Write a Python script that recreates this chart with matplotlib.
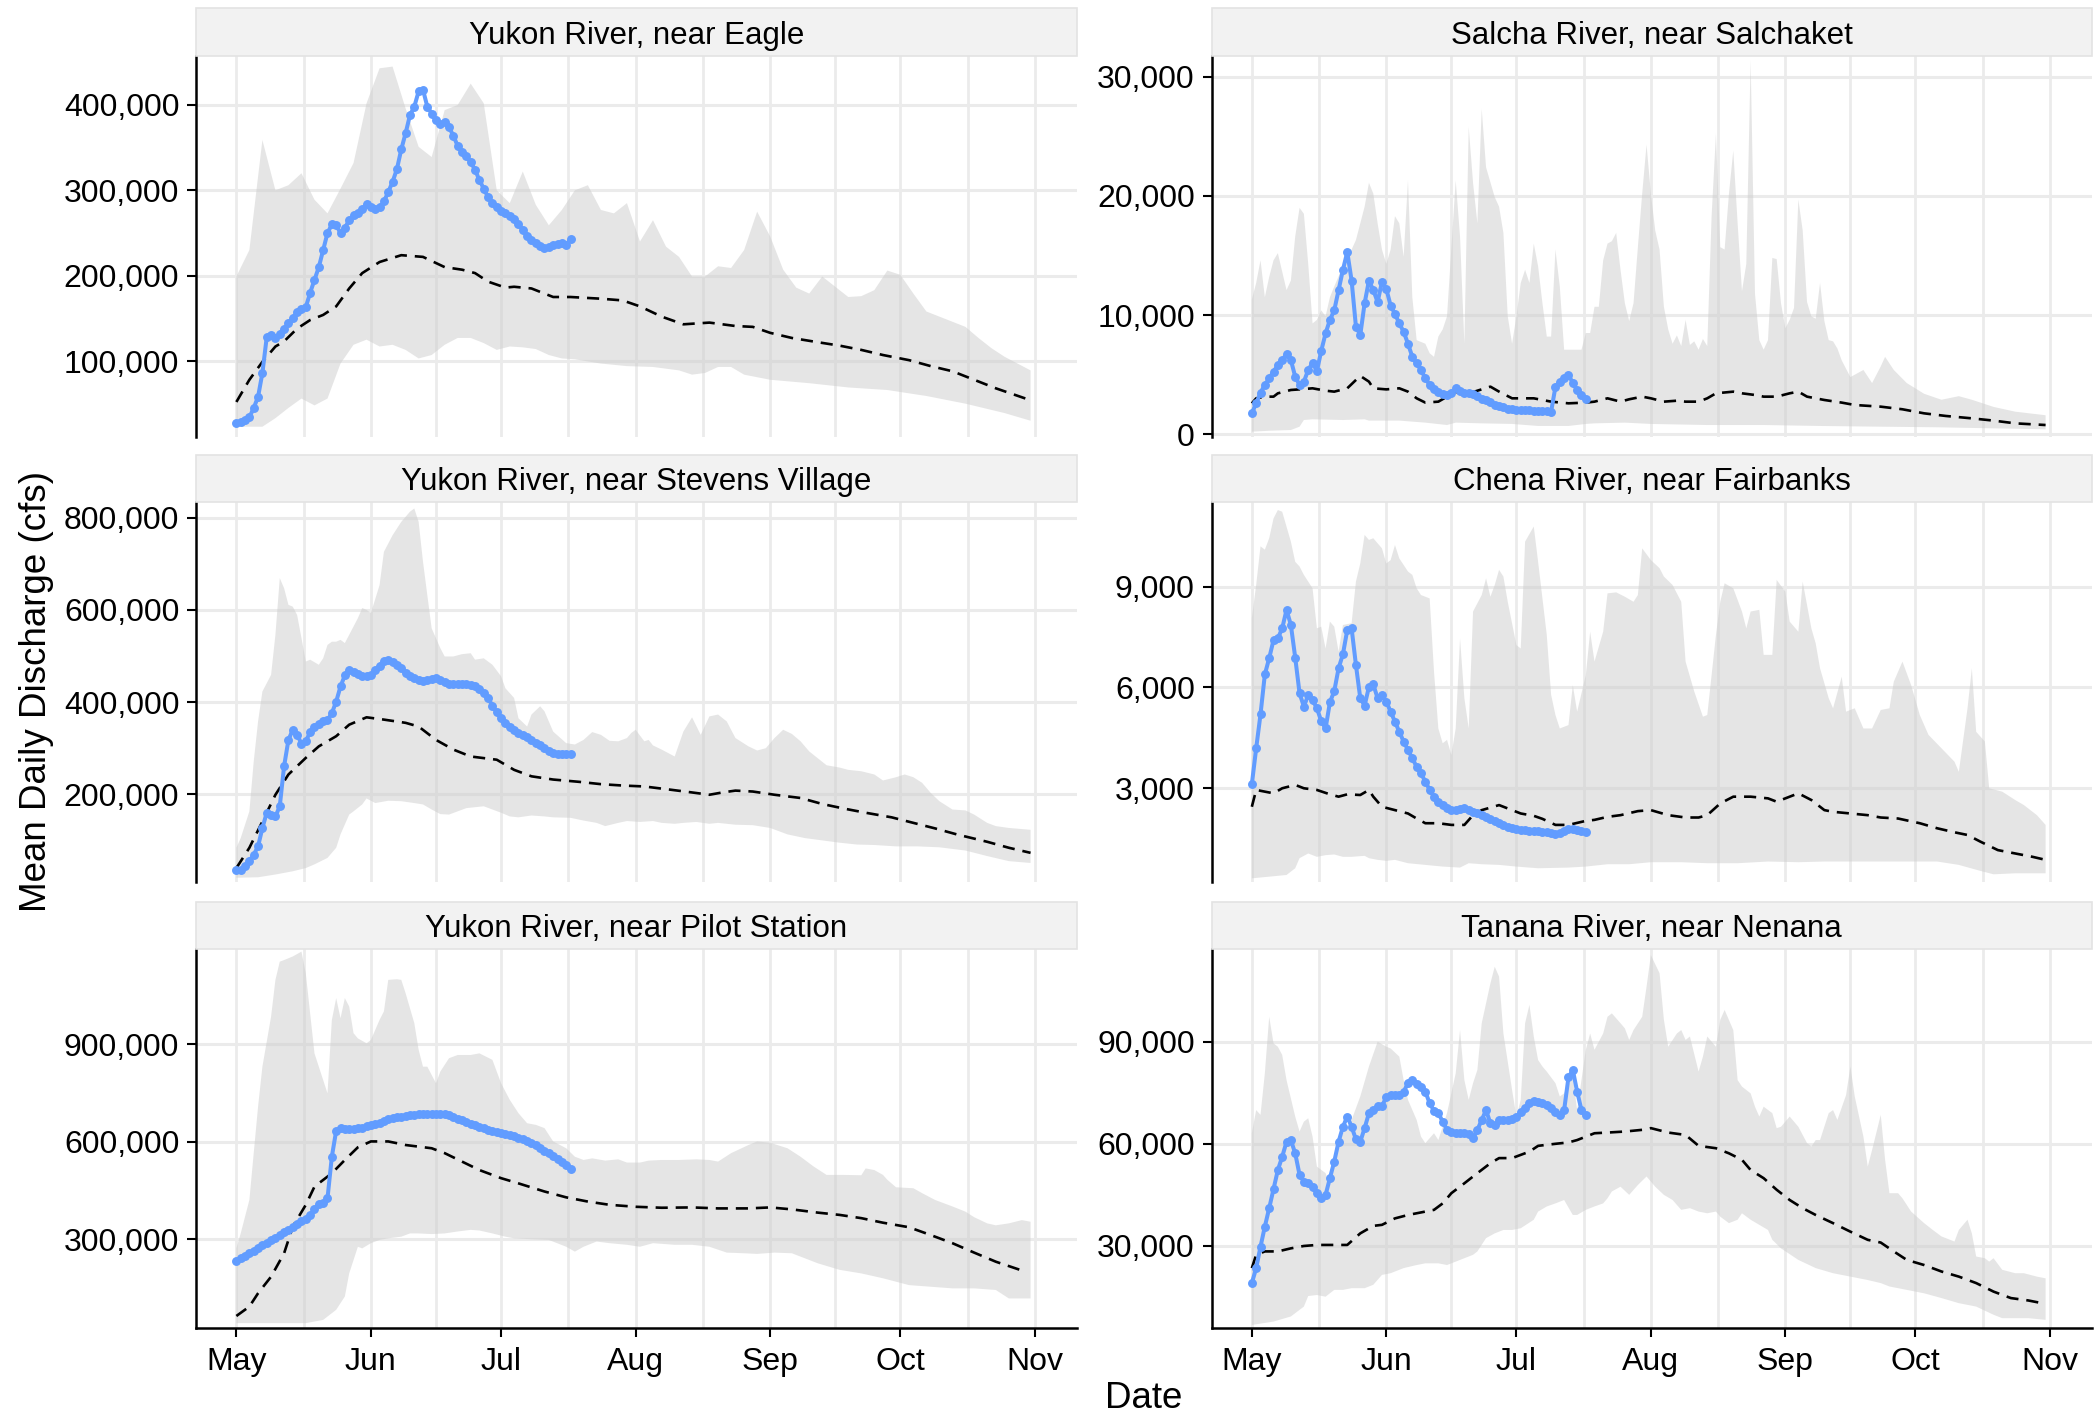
import numpy as np
import pandas as pd
import matplotlib
matplotlib.use("Agg")
import matplotlib.pyplot as plt
from matplotlib.patches import Rectangle
from matplotlib.ticker import FuncFormatter

plt.rcParams['font.family'] = ['Liberation Sans', 'DejaVu Sans']

# all discharge values in thousands of cfs, x = days since May 1

titles = ["Yukon River, near Eagle", "Salcha River, near Salchaket",
          "Yukon River, near Stevens Village", "Chena River, near Fairbanks",
          "Yukon River, near Pilot Station", "Tanana River, near Nenana"]

# ---- Yukon River, near Eagle
eagle_obs = [27, 28.5, 30.5, 34, 45, 58, 86, 128, 131, 127,
             132, 138, 144, 150, 158, 161, 163, 180, 195, 210,
             230, 250, 260, 259, 250, 256, 265, 271, 273, 278,
             284, 281, 278, 280, 287, 298, 310, 325, 348, 367,
             388, 398, 416, 418, 398, 390, 382, 378, 380, 374,
             364, 352, 345, 340, 333, 324, 312, 302, 292, 285,
             280, 276, 273, 270, 266, 260, 254, 247, 242, 238,
             235, 233, 234, 236, 237, 238, 236, 243]
eagle_med_d = [0, 3, 6, 9, 11, 14, 17, 20, 23, 26, 29, 33, 38, 43, 48, 52, 55, 58, 62, 64,
               68, 73, 77, 84, 89, 93, 98, 103, 109, 115, 119, 123, 128, 134, 139, 144, 149,
               155, 160, 165, 170, 175, 183]
eagle_med = [52, 78, 99, 117, 123, 138, 148, 154, 164, 185, 203, 216, 224, 222, 210, 207, 203,
             193, 186, 187, 185, 175, 175, 173, 171, 164, 152, 143, 145, 141, 140, 133, 127,
             122, 118, 113, 107, 101, 94, 88, 78, 68, 54]
eagle_hi_d = list(range(0, 184, 3))
eagle_hi = [199, 230, 359, 300, 306, 320, 289, 273, 302, 332,
            402, 443, 445, 396, 351, 339, 394, 400, 425, 402,
            300, 285, 322, 283, 259, 277, 300, 306, 277, 273,
            285, 240, 265, 234, 222, 199, 199, 211, 209, 230,
            275, 246, 207, 186, 179, 199, 187, 175, 176, 183,
            206, 201, 179, 158, 152, 146, 140, 127, 115, 105, 97, 89]
eagle_lo_d = [0, 6, 9, 12, 15, 18, 21, 24, 27, 30, 33, 36, 39, 42, 45, 48, 51, 54, 57, 60,
              63, 66, 69, 72, 75, 78, 84, 90, 96, 102, 105, 108, 111, 114, 117, 123, 132,
              141, 150, 159, 168, 177, 183]
eagle_lo = [23, 23, 33, 45, 56, 48, 56, 97, 119, 125, 117, 119, 113, 103, 107, 119, 127, 127,
            121, 113, 117, 116, 114, 107, 103, 102, 97, 94, 93, 89, 84, 86, 93, 93, 84, 78,
            74, 69, 66, 59, 50, 39, 30]

# ---- Salcha River, near Salchaket
salcha_obs = [1.76, 2.6, 3.5, 4.14, 4.7, 5.26, 5.8, 6.23, 6.74, 6.23,
              4.84, 4.14, 4.42, 5.4, 6.0, 5.3, 7.0, 8.47, 9.6, 10.4,
              12.1, 13.8, 15.3, 12.9, 9.03, 8.33, 11.0, 12.9, 12.1, 11.1,
              12.8, 12.2, 10.8, 10.1, 9.3, 8.6, 7.6, 6.5, 5.95, 5.4,
              4.7, 4.14, 3.77, 3.58, 3.38, 3.3, 3.44, 3.86, 3.66, 3.5,
              3.44, 3.38, 3.2, 3.0, 2.88, 2.68, 2.49, 2.38, 2.26, 2.15,
              2.1, 2.04, 2.04, 2.04, 2.04, 1.98, 1.98, 1.96, 1.96, 1.9,
              4.0, 4.4, 4.7, 5.0, 4.3, 3.7, 3.3, 3.0]
salcha_med_d = [0, 1, 3, 5, 6, 9, 11, 14, 17, 19, 22, 24, 25, 27, 28, 31, 34, 36, 38, 40,
                43, 45, 47, 49, 52, 55, 57, 60, 62, 65, 69, 73, 77, 79, 82, 85, 87, 90, 92, 95,
                98, 100, 103, 105, 107, 111, 113, 116, 118, 121, 124, 126, 128, 132, 136, 139,
                145, 150, 155, 160, 166, 171, 176, 183]
salcha_med = [2.6, 3.02, 3.16, 3.16, 3.44, 3.72, 3.77, 3.86, 3.66, 3.58,
              3.86, 4.56, 4.9, 4.42, 3.86, 3.77, 3.86, 3.58, 3.02, 2.66,
              2.74, 3.16, 3.58, 3.3, 3.66, 4.0, 3.58, 3.02, 3.02, 3.02,
              2.74, 2.6, 2.66, 2.74, 3.02, 2.74, 2.94, 3.16, 3.02, 2.74,
              2.82, 2.74, 2.74, 3.02, 3.44, 3.58, 3.44, 3.3, 3.16, 3.16,
              3.44, 3.58, 3.16, 2.88, 2.66, 2.46, 2.32, 2.1, 1.76, 1.54,
              1.34, 1.15, 0.92, 0.78]
salcha_hi_d = [0, 1, 2, 3, 4, 5, 6, 8, 9, 10, 11, 12, 13, 14, 15, 16, 17, 18, 19, 21,
               23, 24, 26, 27, 28, 29, 30, 31, 32, 33, 34, 35, 36, 37, 38, 40, 41, 42, 43, 44,
               45, 47, 48, 49, 50, 51, 52, 53, 54, 56, 57, 58, 59, 60, 61, 62, 63, 64, 65, 66,
               67, 68, 69, 70, 71, 72, 74, 76, 77, 78, 79, 80, 81, 82, 83, 84, 85, 86, 87, 88,
               89, 90, 91, 92, 93, 94, 95, 96, 97, 98, 99, 100, 101, 102, 103, 104, 105, 106,
               107, 108, 109, 110, 111, 112, 113, 114, 115, 116, 117, 118, 119, 120, 121, 122,
               123, 124, 125, 126, 127, 128, 129, 130, 131, 132, 133, 134, 135, 136, 138, 141,
               143, 145, 146, 148, 151, 155, 159, 163, 166, 171, 176, 183]
salcha_hi = [11.3, 12.7, 14.6, 11.5, 13.2, 14.6, 15.2, 12.1, 12.9, 16.6,
             19.0, 18.5, 14.3, 9.3, 9.6, 10.4, 9.9, 11.5, 12.4, 14.1,
             15.5, 16.3, 19.1, 21.1, 20.2, 17.7, 15.5, 14.3, 15.5, 18.3,
             17.7, 14.9, 21.3, 11.5, 7.9, 7.6, 6.8, 6.5, 8.2, 8.8,
             9.9, 21.3, 16.6, 7.6, 25.8, 21.1, 17.7, 27.3, 22.4, 19.9,
             19.1, 16.9, 9.9, 7.6, 9.9, 12.7, 13.8, 12.7, 16.0, 14.1,
             11.0, 8.2, 8.2, 15.5, 12.4, 7.1, 7.1, 7.1, 8.5, 8.5,
             10.7, 10.7, 14.6, 16.0, 16.2, 16.9, 13.8, 11.0, 9.5, 11.0,
             15.7, 20.2, 24.3, 20.2, 17.1, 15.5, 10.7, 8.8, 7.6, 8.3,
             7.4, 9.6, 7.5, 7.8, 7.1, 8.0, 7.4, 18.3, 25.2, 15.7,
             15.5, 20.2, 23.8, 17.7, 12.0, 14.3, 31.4, 11.8, 7.9, 7.1,
             7.9, 14.8, 14.7, 11.0, 8.9, 9.6, 10.6, 19.7, 17.1, 11.1,
             9.9, 9.7, 12.7, 9.5, 7.9, 7.8, 7.2, 6.2, 4.8, 5.4,
             4.3, 5.7, 6.5, 5.4, 4.3, 3.4, 2.9, 3.2, 2.9, 2.3, 1.9, 1.6]
salcha_lo_d = [0, 4, 9, 11, 12, 14, 21, 26, 27, 34, 40, 45, 47, 53, 60, 66, 73, 77, 79, 86,
               92, 105, 118, 131, 145, 158, 171, 183]
salcha_lo = [0.22, 0.3, 0.36, 0.64, 1.2, 1.26, 1.2, 1.26, 1.15, 1.15, 0.98, 0.78, 0.98, 0.92,
             0.87, 0.7, 0.7, 0.87, 0.92, 0.98, 0.87, 0.78, 0.78, 0.7, 0.64, 0.59, 0.5, 0.42]

# ---- Yukon River, near Stevens Village
stevens_obs = [34.7, 36, 44, 55, 69, 87, 127, 160, 156, 152,
               174, 261, 318, 340, 329, 310, 315, 335, 346, 353,
               358, 361, 376, 401, 434, 458, 469, 466, 461, 457,
               456, 459, 470, 479, 490, 491, 487, 481, 474, 464,
               457, 452, 448, 446, 448, 451, 452, 448, 443, 440,
               439, 439, 439, 439, 438, 434, 429, 419, 409, 392,
               378, 365, 355, 347, 340, 334, 329, 324, 318, 312,
               307, 301, 295, 290, 288, 287, 287, 287]
stevens_med_d = [0, 3, 6, 9, 12, 16, 19, 23, 26, 30, 34, 39, 42, 46, 50, 54, 60, 64, 68, 73,
                 79, 84, 89, 94, 100, 105, 109, 112, 115, 119, 124, 130, 135, 140, 145, 151,
                 156, 161, 166, 173, 178, 183]
stevens_med = [40, 84, 141, 199, 243, 279, 304, 326, 351, 367, 362, 355, 347, 318, 297, 282,
               275, 253, 239, 232, 227, 222, 219, 217, 210, 204, 199, 204, 208, 206, 199, 192,
               179, 169, 160, 150, 138, 126, 113, 97, 84, 73]
stevens_hi_d = [0, 1, 3, 4, 5, 6, 8, 9, 10, 11, 12, 13, 14, 15, 16, 17, 19, 20, 21, 22,
                23, 24, 25, 26, 28, 29, 30, 31, 33, 34, 36, 38, 40, 41, 42, 43, 44, 45, 47, 48,
                50, 52, 54, 55, 57, 59, 61, 62, 64, 65, 67, 68, 70, 71, 73, 76, 78, 80, 82, 84,
                86, 88, 90, 91, 92, 94, 95, 96, 98, 100, 101, 103, 105, 107, 109, 111, 113, 115,
                118, 120, 122, 124, 126, 128, 130, 132, 136, 139, 141, 144, 147, 149, 152, 154,
                156, 158, 160, 162, 165, 168, 170, 173, 175, 178, 183]
stevens_hi = [84, 105, 163, 271, 358, 423, 459, 546, 669, 647,
              611, 607, 589, 539, 488, 492, 481, 495, 524, 531,
              531, 535, 528, 546, 582, 604, 600, 593, 654, 726,
              762, 791, 813, 820, 791, 705, 632, 560, 517, 499,
              499, 504, 506, 492, 495, 481, 456, 430, 409, 365,
              347, 373, 391, 380, 336, 311, 308, 318, 335, 329,
              316, 315, 322, 333, 340, 315, 318, 306, 297, 287,
              282, 336, 367, 329, 369, 373, 358, 322, 304, 295,
              300, 322, 340, 331, 315, 293, 263, 258, 253, 250,
              243, 230, 237, 243, 237, 225, 203, 185, 167, 165,
              156, 138, 131, 127, 123]
stevens_lo_d = [0, 5, 9, 13, 16, 18, 21, 23, 24, 26, 27, 29, 30, 32, 35, 38, 41, 43, 45, 47,
                49, 51, 53, 55, 57, 59, 61, 63, 65, 68, 71, 73, 77, 80, 83, 85, 88, 90, 93, 96,
                98, 101, 103, 106, 109, 111, 115, 119, 123, 127, 131, 135, 139, 143, 147, 152,
                157, 162, 168, 173, 178, 183]
stevens_lo = [19, 20, 26, 33, 40, 48, 62, 84, 113, 156, 163, 178, 191, 181, 186, 185, 181,
              178, 167, 157, 156, 163, 170, 172, 174, 167, 160, 152, 150, 154, 152, 150, 149,
              143, 138, 131, 138, 142, 140, 142, 138, 136, 138, 140, 136, 138, 134, 133, 127,
              113, 105, 100, 95, 91, 90, 87, 87, 85, 78, 66, 55, 51]

# ---- Chena River, near Fairbanks
chena_obs = [3.12, 4.19, 5.2, 6.39, 6.87, 7.41, 7.46, 7.76, 8.31, 7.86,
             6.89, 5.83, 5.43, 5.78, 5.63, 5.38, 5.0, 4.78, 5.56, 5.89,
             6.57, 6.99, 7.71, 7.76, 6.67, 5.68, 5.46, 6.02, 6.09, 5.68,
             5.78, 5.58, 5.28, 4.98, 4.68, 4.39, 4.14, 3.89, 3.64, 3.44,
             3.2, 2.95, 2.75, 2.6, 2.5, 2.4, 2.35, 2.35, 2.37, 2.4,
             2.35, 2.3, 2.25, 2.2, 2.15, 2.09, 2.03, 1.96, 1.91, 1.86,
             1.83, 1.79, 1.76, 1.76, 1.73, 1.73, 1.73, 1.71, 1.69, 1.66,
             1.64, 1.67, 1.73, 1.78, 1.78, 1.75, 1.72, 1.69]
chena_med_d = [0, 1, 3, 5, 7, 10, 12, 15, 18, 20, 22, 25, 27, 28, 30, 33, 36, 38, 40, 43,
               46, 49, 51, 53, 57, 60, 62, 65, 67, 70, 73, 77, 79, 82, 85, 89, 92, 96, 100, 103,
               105, 108, 111, 115, 119, 121, 124, 126, 129, 132, 134, 138, 142, 145, 149, 154,
               158, 162, 165, 168, 172, 176, 180, 183]
chena_med = [2.45, 2.95, 2.9, 2.85, 3.0, 3.1, 3.0, 2.95, 2.82, 2.75,
             2.82, 2.8, 2.95, 2.75, 2.45, 2.35, 2.25, 2.1, 1.96, 1.96,
             1.91, 1.91, 2.2, 2.35, 2.5, 2.35, 2.25, 2.18, 2.09, 1.91,
             1.91, 2.03, 2.06, 2.15, 2.2, 2.32, 2.35, 2.2, 2.13, 2.13,
             2.2, 2.55, 2.75, 2.75, 2.7, 2.6, 2.75, 2.85, 2.65, 2.35,
             2.3, 2.25, 2.2, 2.13, 2.1, 1.96, 1.81, 1.69, 1.61, 1.41,
             1.16, 1.06, 0.96, 0.87]
chena_hi_d = [0, 1, 2, 3, 4, 5, 6, 7, 9, 10, 11, 12, 14, 15, 16, 17, 18, 19, 20, 21,
              23, 24, 25, 26, 27, 28, 30, 31, 32, 33, 34, 36, 37, 38, 39, 41, 42, 43, 44, 45,
              46, 47, 48, 49, 50, 51, 53, 54, 55, 56, 57, 58, 59, 61, 62, 63, 65, 66, 68, 69,
              70, 71, 73, 74, 75, 77, 78, 79, 81, 82, 84, 86, 88, 89, 90, 92, 94, 95, 97, 99,
              100, 102, 104, 105, 107, 108, 109, 111, 113, 114, 115, 117, 118, 120, 121, 123,
              124, 126, 127, 129, 130, 131, 133, 134, 136, 137, 139, 141, 143, 145, 147, 148,
              150, 152, 154, 156, 159, 162, 163, 165, 166, 167, 169, 170, 173, 176, 178, 181, 183]
chena_hi = [8.06, 9.05, 10.2, 10.1, 10.44, 11.03, 11.28, 11.23, 10.34, 9.74,
            9.6, 9.35, 8.95, 7.76, 7.81, 7.16, 7.96, 7.81, 7.07, 7.86,
            7.91, 9.15, 9.69, 10.54, 10.39, 10.44, 10.14, 9.69, 9.79, 10.24,
            9.84, 9.45, 9.35, 8.95, 8.75, 8.65, 6.47, 4.78, 4.34, 4.44,
            3.99, 4.78, 7.46, 5.68, 4.78, 8.26, 8.75, 9.25, 8.7, 9.05,
            9.5, 9.3, 8.55, 7.26, 7.16, 10.34, 10.79, 9.74, 7.56, 5.78,
            5.18, 4.78, 4.88, 6.07, 5.28, 6.37, 7.66, 6.77, 7.66, 8.8,
            8.83, 8.7, 8.55, 8.75, 10.14, 9.79, 9.55, 9.3, 9.05, 8.55,
            6.77, 5.88, 5.13, 5.18, 7.56, 8.55, 9.1, 8.95, 8.26, 7.76,
            8.26, 8.31, 6.97, 6.97, 9.2, 8.85, 7.96, 7.66, 9.15, 7.76,
            7.31, 6.57, 5.68, 5.38, 6.32, 5.28, 5.38, 4.78, 4.78, 5.33,
            5.38, 6.17, 6.77, 6.07, 5.18, 4.59, 4.19, 3.79, 3.49, 5.38,
            6.57, 4.68, 4.39, 3.0, 2.9, 2.65, 2.5, 2.2, 1.91]
chena_lo_d = [0, 8, 10, 11, 13, 15, 17, 19, 21, 23, 26, 27, 29, 31, 33, 36, 40, 44, 48, 50,
              53, 57, 61, 66, 73, 77, 82, 87, 92, 99, 105, 112, 119, 126, 132, 145, 158, 163,
              168, 171, 176, 183]
chena_lo = [0.32, 0.42, 0.62, 0.92, 1.06, 0.96, 1.01, 1.03, 0.96, 0.96,
            0.99, 0.92, 0.87, 0.84, 0.87, 0.77, 0.72, 0.67, 0.64, 0.77,
            0.74, 0.72, 0.67, 0.62, 0.64, 0.67, 0.74, 0.74, 0.8, 0.8,
            0.77, 0.77, 0.82, 0.8, 0.82, 0.82, 0.82, 0.72, 0.54, 0.44, 0.47, 0.47]

# ---- Yukon River, near Pilot Station
pilot_obs = [234, 241, 249, 257, 265, 273, 281, 289, 297, 305,
             314, 322, 330, 338, 346, 355, 362, 375, 392, 409,
             411, 426, 554, 634, 641, 639, 638, 638, 641, 643,
             647, 651, 655, 659, 664, 669, 672, 675, 677, 679,
             682, 683, 684, 685, 686, 686, 686, 686, 684, 681,
             676, 671, 666, 661, 656, 651, 646, 642, 637, 634,
             631, 628, 624, 621, 617, 612, 608, 603, 597, 589,
             581, 573, 565, 556, 548, 539, 529, 516]
pilot_med_d = [0, 3, 5, 8, 11, 13, 16, 18, 22, 25, 28, 31, 35, 39, 45, 48, 52, 56, 61, 65,
               71, 76, 81, 86, 92, 98, 105, 111, 118, 123, 128, 134, 139, 144, 149, 155, 160,
               165, 170, 175, 181]
pilot_med = [64, 93, 134, 185, 257, 339, 406, 462, 503, 544, 583, 601, 601, 590, 580, 565,
             539, 513, 488, 472, 447, 429, 416, 406, 400, 397, 398, 395, 395, 398, 392, 382,
             375, 365, 351, 337, 313, 288, 259, 231, 204]
pilot_hi_d = [0, 1, 3, 4, 5, 6, 8, 9, 10, 11, 13, 15, 16, 17, 18, 20, 21, 22, 23, 24,
              25, 26, 27, 28, 30, 31, 33, 34, 35, 37, 38, 39, 41, 42, 43, 44, 46, 47, 49, 51,
              54, 56, 59, 61, 63, 65, 67, 69, 71, 73, 76, 78, 80, 82, 85, 88, 90, 93, 95, 98,
              102, 106, 109, 111, 114, 118, 120, 123, 127, 130, 133, 136, 140, 144, 145, 147,
              149, 150, 152, 156, 158, 161, 165, 168, 170, 173, 175, 178, 181, 183]
pilot_hi = [272, 318, 421, 565, 708, 831, 985, 1098, 1154, 1159,
            1170, 1185, 1118, 995, 872, 790, 749, 974, 1042, 980,
            1042, 1016, 934, 918, 903, 913, 975, 1001, 1098, 1100,
            1098, 1057, 965, 883, 831, 831, 780, 816, 857, 867,
            867, 872, 852, 780, 729, 688, 657, 652, 642, 601,
            580, 554, 544, 549, 542, 546, 536, 536, 542, 544,
            544, 546, 544, 539, 565, 590, 601, 597, 580, 554,
            524, 498, 498, 497, 518, 513, 498, 483, 460, 457,
            442, 421, 401, 385, 368, 349, 343, 349, 359, 354]
pilot_lo_d = [0, 9, 16, 20, 23, 25, 26, 28, 29, 31, 33, 35, 38, 40, 42, 45, 48, 51, 54, 56,
              59, 62, 64, 68, 72, 76, 78, 80, 83, 86, 90, 93, 96, 98, 101, 105, 109, 113, 117,
              120, 124, 128, 134, 139, 144, 149, 155, 160, 165, 170, 175, 178, 183]
pilot_lo = [42, 42, 42, 52, 83, 124, 195, 277, 272, 288, 298, 303, 308, 318, 318, 316, 318,
            324, 329, 327, 318, 308, 303, 300, 298, 277, 262, 277, 293, 288, 283, 277, 288,
            286, 283, 283, 277, 259, 257, 255, 259, 257, 226, 206, 195, 180, 159, 154, 149,
            149, 144, 118, 118]

# ---- Tanana River, near Nenana
tanana_obs = [19.1, 23.5, 29.8, 35.7, 41.1, 46.7, 52.3, 56.2, 60.6, 61.1,
              57.2, 50.9, 48.9, 48.4, 47.4, 45.5, 44.0, 45.0, 49.9, 54.8,
              60.6, 65.0, 68.0, 65.0, 61.3, 60.6, 64.6, 69.0, 69.9, 71.1,
              71.1, 73.7, 74.3, 74.3, 74.3, 75.3, 77.8, 78.7, 77.6, 76.8,
              75.3, 71.9, 69.7, 69.0, 66.5, 64.1, 63.6, 63.1, 63.1, 63.3,
              62.9, 61.6, 64.1, 67.0, 69.9, 66.0, 65.5, 67.0, 67.0, 67.0,
              67.2, 68.0, 69.2, 70.4, 71.9, 72.7, 72.4, 71.9, 71.4, 70.4,
              69.2, 68.5, 69.9, 79.5, 81.7, 75.3, 69.9, 68.5]
tanana_med_d = [0, 1, 3, 6, 9, 12, 15, 19, 22, 25, 28, 30, 33, 36, 40, 42, 44, 46, 49, 51,
                55, 57, 60, 64, 66, 70, 73, 75, 79, 82, 86, 90, 92, 96, 100, 103, 107, 110, 113,
                115, 118, 121, 124, 127, 130, 134, 138, 142, 145, 148, 151, 155, 159, 163, 167,
                171, 175, 179, 183]
tanana_med = [23.5, 27.4, 28.4, 28.4, 29.3, 30.0, 30.3, 30.3, 30.3, 33.7,
              35.9, 36.2, 38.1, 39.1, 40.1, 40.6, 42.5, 45.5, 48.4, 50.4,
              54.3, 55.8, 55.8, 57.7, 59.4, 60.0, 60.4, 61.1, 63.1, 63.3,
              63.6, 64.1, 64.6, 63.3, 62.6, 59.4, 58.7, 57.2, 55.3, 52.3,
              49.9, 46.5, 43.5, 41.1, 39.1, 36.7, 34.2, 31.8, 31.0, 28.4,
              25.9, 24.4, 22.5, 21.0, 19.1, 16.6, 14.7, 14.0, 13.0]
tanana_hi_d = [0, 1, 2, 3, 4, 5, 6, 7, 8, 10, 11, 12, 13, 14, 15, 17, 18, 19, 21, 22,
               23, 25, 27, 29, 31, 32, 34, 35, 36, 38, 39, 40, 42, 43, 45, 47, 48, 49, 50, 51,
               52, 53, 55, 56, 57, 58, 60, 61, 62, 63, 64, 65, 66, 67, 68, 70, 71, 72, 74, 75,
               77, 78, 79, 81, 82, 83, 85, 86, 87, 88, 90, 91, 92, 94, 95, 96, 98, 99, 100, 101,
               103, 104, 105, 107, 108, 109, 111, 112, 113, 115, 116, 117, 118, 120, 121, 122,
               124, 126, 128, 129, 130, 131, 133, 134, 135, 137, 138, 139, 141, 142, 143, 145,
               146, 147, 149, 150, 152, 155, 157, 159, 162, 163, 165, 166, 167, 169, 170, 171,
               173, 176, 178, 181, 183]
tanana_hi = [63.1, 69.9, 68.5, 80.7, 97.3, 89.5, 88.5, 86.1, 78.7, 68.0,
             63.6, 66.5, 67.5, 62.1, 53.3, 51.4, 47.9, 55.8, 63.1, 65.0,
             67.0, 73.9, 82.7, 90.0, 88.5, 88.0, 85.6, 78.7, 72.9, 67.0,
             62.1, 60.2, 63.1, 61.1, 69.0, 80.7, 93.4, 78.7, 72.9, 77.8,
             81.7, 95.4, 107.1, 112.0, 109.1, 92.4, 75.8, 68.0, 72.9, 95.4,
             100.8, 91.5, 84.6, 82.7, 81.2, 77.8, 73.9, 74.8, 79.7, 69.9,
             87.6, 92.4, 87.6, 92.4, 97.3, 98.3, 95.4, 93.9, 90.5, 93.4,
             97.3, 106.1, 115.4, 110.1, 96.4, 88.5, 92.4, 93.4, 90.5, 91.5,
             81.2, 85.6, 91.5, 88.5, 96.4, 99.3, 93.4, 78.7, 76.8, 74.8,
             70.9, 68.0, 70.9, 69.0, 64.6, 65.0, 68.0, 65.0, 60.2, 59.2,
             61.1, 61.1, 69.0, 69.9, 67.0, 74.3, 82.7, 73.9, 62.1, 53.3,
             58.2, 68.5, 55.3, 45.5, 45.5, 44.0, 40.1, 36.7, 34.7, 32.8,
             31.3, 34.7, 37.7, 33.7, 26.9, 26.4, 25.4, 26.4, 23.0, 22.0,
             22.0, 21.0, 20.5]
tanana_lo_d = [0, 5, 9, 12, 13, 15, 17, 19, 21, 23, 26, 28, 30, 32, 35, 38, 40, 43, 45, 48,
               51, 52, 54, 56, 58, 60, 62, 65, 66, 68, 70, 72, 74, 75, 77, 79, 81, 82, 83, 85,
               87, 89, 91, 93, 95, 97, 99, 101, 103, 105, 107, 108, 110, 112, 113, 115, 117,
               119, 120, 122, 126, 130, 134, 138, 142, 145, 147, 151, 155, 159, 163, 167, 171,
               173, 179, 183]
tanana_lo = [6.8, 7.8, 9.3, 12.2, 15.3, 15.6, 15.1, 17.1, 17.1, 17.6,
             17.6, 18.6, 21.5, 22.0, 23.5, 24.4, 24.9, 24.9, 24.4, 25.9,
             27.4, 28.4, 32.3, 33.7, 34.7, 34.7, 35.2, 37.7, 40.1, 41.6,
             42.5, 43.5, 39.1, 39.1, 40.6, 41.6, 42.5, 44.0, 46.0, 47.4,
             45.0, 47.9, 50.4, 47.4, 45.0, 43.5, 40.6, 41.1, 40.1, 39.6,
             40.1, 38.6, 36.7, 37.7, 39.6, 37.7, 36.2, 34.7, 31.8, 29.3,
             25.9, 23.5, 22.0, 21.0, 20.0, 19.1, 18.1, 17.1, 16.1, 14.7,
             13.2, 12.2, 9.8, 8.8, 8.8, 8.3]

panels = [
    (eagle_obs, eagle_med_d, eagle_med, eagle_hi_d, eagle_hi, eagle_lo_d, eagle_lo,
     [100e3, 200e3, 300e3, 400e3], (11.3e3, 457.4e3)),
    (salcha_obs, salcha_med_d, salcha_med, salcha_hi_d, salcha_hi, salcha_lo_d, salcha_lo,
     [0, 10e3, 20e3, 30e3], (-0.2e3, 31.74e3)),
    (stevens_obs, stevens_med_d, stevens_med, stevens_hi_d, stevens_hi, stevens_lo_d, stevens_lo,
     [200e3, 400e3, 600e3, 800e3], (10.4e3, 833.4e3)),
    (chena_obs, chena_med_d, chena_med, chena_hi_d, chena_hi, chena_lo_d, chena_lo,
     [3e3, 6e3, 9e3], (0.22e3, 11.51e3)),
    (pilot_obs, pilot_med_d, pilot_med, pilot_hi_d, pilot_hi, pilot_lo_d, pilot_lo,
     [300e3, 600e3, 900e3], (28e3, 1193e3)),
    (tanana_obs, tanana_med_d, tanana_med, tanana_hi_d, tanana_hi, tanana_lo_d, tanana_lo,
     [30e3, 60e3, 90e3], (6.0e3, 117.2e3)),
]

# month ticks as day offsets from May 1
start = pd.Timestamp("2019-05-01")
months = pd.date_range("2019-05-01", "2019-11-01", freq="MS")
major = (months - start).days.values.astype(float)
minor = (major[:-1] + major[1:]) / 2
mlabels = list(months.strftime("%b"))

W, H = 2095, 1416
fig = plt.figure(figsize=(W / 100, H / 100), dpi=100)

cols = [(196, 1077), (1211.5, 2092)]
rows = [(56, 436.7), (502.3, 881.7), (949, 1327.7)]
strip_h = 47.5
blue = "#619CFF"
grid_c = "#EBEBEB"
fmt = FuncFormatter(lambda v, _: f"{v:,.0f}")

for i, (obs, md, mv, hd, hv, ld, lv, yt, yl) in enumerate(panels):
    r, c = divmod(i, 2)
    x0, x1 = cols[c]
    ytop, ybot = rows[r]
    ax = fig.add_axes([x0 / W, 1 - ybot / H, (x1 - x0) / W, (ybot - ytop) / H])

    hd, hv = np.asarray(hd, float), np.asarray(hv) * 1000
    ld, lv = np.asarray(ld, float), np.asarray(lv) * 1000
    ax.fill(np.r_[hd, ld[::-1]], np.r_[hv, lv[::-1]], color="#CCCCCC", alpha=0.5,
            lw=0, zorder=2)
    ax.plot(md, np.asarray(mv) * 1000, color="black", lw=1.9,
            linestyle=(0, (4.6, 3.0)), dash_capstyle="butt", zorder=3)
    ax.plot(np.arange(len(obs)), np.asarray(obs) * 1000, color=blue, lw=2.9,
            marker="o", ms=5.4, mec=blue, mfc=blue, zorder=4)

    ax.set_xlim(-9.3, 193.7)
    ax.set_ylim(*yl)
    ax.set_xticks(major)
    ax.set_xticks(minor, minor=True)
    ax.set_yticks(yt)
    ax.yaxis.set_major_formatter(fmt)
    ax.set_axisbelow(True)
    ax.grid(True, axis="x", which="both", color=grid_c, lw=2.0)
    ax.grid(True, axis="y", which="major", color=grid_c, lw=2.2)

    for s in ["top", "right"]:
        ax.spines[s].set_visible(False)
    ax.spines["left"].set_linewidth(1.8)
    ax.tick_params(axis="y", length=6.5, width=1.5, pad=5.5, labelsize=23,
                   colors="black")
    ax.tick_params(axis="x", which="minor", length=0)
    if r == 2:
        ax.spines["bottom"].set_linewidth(1.8)
        ax.set_xticklabels(mlabels)
        ax.tick_params(axis="x", which="major", length=6.5, width=1.5, pad=7.5,
                       labelsize=23, colors="black")
    else:
        ax.spines["bottom"].set_visible(False)
        ax.tick_params(axis="x", which="major", length=0, labelbottom=False)

    # facet strip
    fig.add_artist(Rectangle((x0 / W, 1 - ytop / H), (x1 - x0) / W, strip_h / H,
                             transform=fig.transFigure, facecolor="#F2F2F2",
                             edgecolor="#E3E3E3", lw=1.2))
    fig.text((x0 + x1) / 2 / W, 1 - (ytop - strip_h / 2 + 3.5) / H, titles[i],
             ha="center", va="center", fontsize=22.5, color="black")

fig.text(37 / W, 1 - 692 / H, "Mean Daily Discharge (cfs)", rotation=90,
         ha="center", va="center", fontsize=26.5)
fig.text(1144 / W, 1 - 1408 / H, "Date", ha="center", va="baseline", fontsize=26.5)

fig.savefig("out.png", dpi=100, facecolor="white")
